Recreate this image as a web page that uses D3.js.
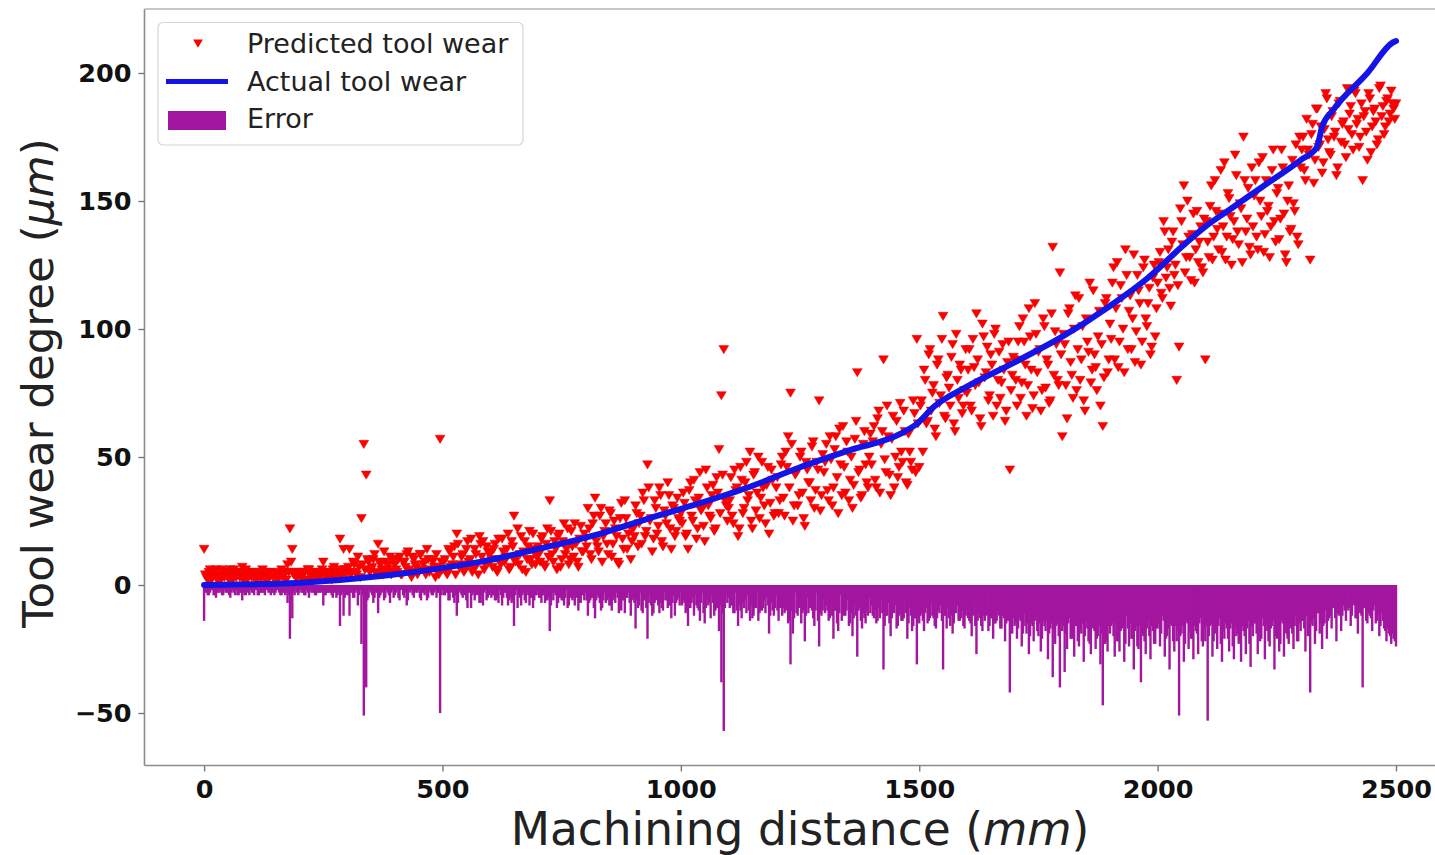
<!DOCTYPE html>
<html>
<head>
<meta charset="utf-8">
<script src="https://cdn.jsdelivr.net/npm/d3@7"></script>
<style>
  html, body { margin: 0; padding: 0; background: #ffffff; overflow: hidden; }
  svg { display: block; font-family: "DejaVu Sans", sans-serif; }
</style>
</head>
<body>
<script>
// ---------------- data ----------------
const STEP = 5;      // sample spacing (mm); second set is offset by half a step

// Predicted tool wear (µm) at 0, 5, 10 ... 2500 mm
const predY = [
  14,3,5,2,4,6,3,2,5,4,3,6,2,4,5,3,7,4,2,5,
  3,4,2,5,3,4,2,3,5,4,3,2,4,3,5,8,22,14,5,3,
  4,3,5,2,6,3,4,5,3,4,9,5,3,4,6,3,5,18,4,6,
  6,14,5,8,4,7,26,55,43,9,6,10,5,16,8,4,9,6,11,5,
  8,5,11,4,9,12,6,3,10,7,5,12,8,4,10,6,9,3,7,57,
  6,10,4,13,8,15,20,7,11,5,14,9,18,6,12,4,16,17,8,13,
  12,7,16,5,10,18,9,14,6,17,27,11,8,19,13,5,15,10,20,8,
  15,9,19,7,22,33,12,17,6,20,10,24,14,8,21,11,16,7,23,13,
  18,30,12,24,34,15,27,9,21,16,29,11,25,19,8,32,14,26,20,10,
  22,31,15,27,36,19,47,25,13,33,20,38,17,29,24,35,14,30,21,26,
  28,36,19,14,40,25,33,22,44,30,17,38,27,35,21,42,53,74,92,31,
  30,42,24,37,19,46,28,40,33,52,22,44,36,26,48,31,39,20,45,27,
  38,28,47,34,52,58,75,25,43,31,50,36,23,45,40,54,30,48,72,35,
  44,55,33,49,38,58,28,47,62,36,52,41,30,57,83,45,35,60,40,50,
  47,62,38,68,55,88,44,58,35,66,50,42,71,48,60,39,52,45,67,96,
  46,72,84,63,90,68,78,58,88,74,105,65,82,70,94,60,80,86,67,76,
  75,92,68,85,106,79,62,97,83,72,90,66,100,80,73,94,64,87,45,82,
  88,70,101,79,95,66,108,84,74,98,91,68,104,77,86,72,132,99,80,122,
  58,94,65,108,82,100,76,112,88,72,104,91,79,115,85,97,70,62,110,83,
  102,118,88,126,95,112,83,121,107,92,129,99,115,86,124,104,110,90,120,97,
  118,130,112,138,124,116,134,121,80,93,142,156,128,136,119,145,131,126,140,122,
  88,134,148,127,158,139,145,130,165,136,151,125,142,160,133,147,175,138,155,129,
  140,158,131,150,167,137,146,128,162,142,153,135,170,145,126,156,139,149,172,133,
  163,175,158,170,127,180,166,186,172,161,178,190,169,183,175,160,188,173,181,167,
  178,187,170,192,182,175,158,185,166,190,179,186,172,194,183,176,189,181,193,186,
  188
];

// Predicted tool wear (µm) at 2.5, 7.5 ... 2497.5 mm
const predY2 = [
  4,2,6,3,5,2,4,6,3,5,2,4,6,3,4,5,2,6,3,4,
  5,2,4,3,6,2,5,3,4,2,5,3,6,4,2,5,9,4,3,5,
  3,5,2,6,4,3,5,2,4,6,3,5,4,2,7,5,3,6,14,4,
  7,4,9,5,11,3,8,6,10,5,7,12,4,9,6,13,5,8,4,10,
  6,10,4,9,7,13,5,11,8,4,12,6,9,14,5,10,7,12,4,9,
  9,5,14,7,11,4,16,8,12,6,17,10,5,14,8,19,11,6,15,9,
  10,14,6,18,8,13,11,20,7,15,9,22,12,6,17,10,21,8,14,11,
  12,18,8,16,11,21,9,14,19,7,17,12,22,10,15,24,9,18,13,20,
  15,22,10,27,17,13,30,19,24,12,28,16,22,9,26,18,33,14,23,17,
  19,28,24,16,33,21,38,26,18,30,23,35,15,27,40,22,31,19,34,25,
  24,32,20,37,27,41,18,34,29,23,45,31,26,39,22,36,28,43,33,25,
  33,27,45,38,22,41,30,48,35,25,43,29,50,34,38,24,46,32,41,28,
  42,33,50,27,46,38,55,31,44,35,52,26,48,40,33,56,37,45,29,51,
  48,37,58,31,53,42,61,35,46,56,33,50,39,64,44,34,55,47,38,59,
  56,41,65,36,60,49,70,43,57,38,64,46,52,68,40,59,48,72,44,63,
  70,52,80,64,92,75,61,86,71,96,66,81,77,89,63,98,73,84,70,92,
  84,70,96,78,88,65,102,81,93,74,86,98,70,91,79,84,68,95,76,89,
  80,95,73,104,86,78,97,69,110,83,92,76,101,88,71,106,82,94,78,90,
  98,78,106,87,73,113,92,80,101,68,95,118,84,90,76,107,94,81,112,88,
  96,124,108,85,117,100,131,92,113,104,87,121,110,95,127,101,116,93,125,108,
  126,114,142,120,131,109,138,125,117,147,133,122,150,128,137,118,146,134,124,143,
  142,128,156,136,146,131,162,140,127,153,144,135,168,138,149,126,158,143,132,163,
  152,136,165,144,130,158,148,140,170,134,155,143,163,129,150,138,166,146,136,175,
  170,162,182,168,176,157,186,171,179,165,192,174,168,185,177,163,189,180,172,194,
  184,176,193,180,171,188,183,177,192,169,185,181,174,195,187,179,190,184,188,182
];

// Error (negative) at 0, 5, 10 ... 2500 mm
const errY = [
  -14,-3,-4,-2,-4,-5,-3,-2,-4,-3,-3,-5,-2,-4,-4,-3,-6,-4,-2,-4,
  -3,-4,-2,-4,-3,-3,-2,-3,-4,-3,-3,-2,-4,-3,-4,-7,-21,-13,-4,-3,
  -3,-3,-4,-2,-5,-3,-3,-4,-3,-3,-8,-4,-3,-3,-5,-3,-4,-16,-3,-5,
  -4,-12,-3,-5,-2,-4,-23,-51,-40,-5,-3,-7,-3,-11,-4,-2,-5,-3,-7,-2,
  -4,-2,-6,-1,-5,-8,-2,-2,-5,-3,-2,-6,-3,-2,-5,-3,-4,-2,-3,-50,
  -2,-4,-3,-6,-2,-7,-12,-2,-4,-3,-6,-3,-9,-3,-4,-4,-7,-8,-2,-5,
  -3,-4,-6,-5,-2,-8,-3,-5,-6,-7,-16,-2,-4,-8,-3,-7,-4,-5,-9,-4,
  -2,-5,-4,-7,-6,-18,-3,-3,-9,-5,-6,-8,-2,-8,-5,-5,-2,-10,-7,-4,
  -3,-12,-6,-5,-13,-4,-7,-9,-3,-6,-8,-10,-5,-3,-11,-10,-6,-5,-3,-12,
  -5,-17,-9,-3,-11,-6,-21,-4,-12,-7,-5,-11,-9,-3,-6,-8,-13,-4,-7,-5,
  -3,-6,-11,-16,-9,-5,-4,-9,-14,-3,-15,-6,-7,-4,-12,-9,-18,-38,-57,-4,
  -5,-8,-11,-3,-16,-10,-7,-6,-4,-14,-13,-9,-3,-11,-10,-6,-5,-19,-7,-12,
  -4,-14,-6,-9,-10,-15,-31,-19,-3,-12,-8,-11,-22,-5,-9,-10,-16,-3,-24,-12,
  -6,-8,-14,-7,-21,-10,-18,-4,-11,-12,-6,-15,-20,-8,-28,-9,-17,-13,-10,-5,
  -8,-13,-15,-9,-6,-33,-12,-7,-20,-10,-8,-16,-11,-14,-6,-21,-9,-18,-13,-31,
  -15,-11,-18,-9,-14,-7,-13,-17,-10,-8,-33,-12,-9,-16,-19,-11,-8,-14,-10,-17,
  -10,-14,-20,-8,-27,-11,-16,-12,-9,-18,-13,-21,-15,-10,-17,-12,-22,-14,-42,-19,
  -16,-21,-13,-24,-11,-19,-27,-15,-22,-12,-20,-26,-14,-18,-29,-17,-36,-23,-15,-40,
  -18,-34,-25,-13,-21,-28,-16,-24,-19,-30,-14,-22,-27,-17,-25,-20,-31,-47,-23,-26,
  -19,-15,-28,-22,-26,-17,-30,-12,-24,-21,-33,-16,-25,-38,-20,-27,-14,-29,-18,-23,
  -17,-24,-12,-28,-20,-33,-16,-26,-22,-51,-19,-30,-14,-25,-21,-29,-18,-27,-13,-24,
  -22,-53,-16,-28,-19,-25,-13,-30,-21,-17,-26,-15,-29,-20,-23,-30,-18,-27,-14,-32,
  -20,-15,-27,-22,-13,-29,-18,-24,-16,-33,-21,-26,-14,-28,-19,-23,-17,-25,-12,-22,
  -18,-14,-26,-20,-42,-16,-23,-11,-19,-25,-15,-21,-13,-17,-9,-22,-12,-18,-8,-14,
  -10,-16,-7,-13,-19,-11,-40,-9,-15,-12,-18,-8,-14,-20,-11,-17,-22,-19,-23,-21,
  -24
];

// Error (negative) at 2.5, 7.5 ... 2497.5 mm
const errY2 = [
  -3,-4,-3,-2,-4,-3,-3,-4,-2,-3,-4,-3,-3,-2,-4,-3,-3,-4,-3,-2,
  -3,-2,-4,-3,-3,-4,-2,-3,-3,-4,-2,-3,-4,-3,-3,-4,-6,-3,-2,-4,
  -2,-3,-4,-3,-2,-3,-4,-3,-3,-2,-4,-3,-3,-4,-3,-5,-3,-4,-12,-3,
  -4,-3,-5,-3,-8,-2,-4,-3,-6,-2,-4,-5,-3,-5,-3,-6,-2,-4,-3,-5,
  -3,-5,-2,-4,-3,-6,-3,-4,-2,-3,-5,-3,-4,-6,-2,-4,-3,-5,-3,-4,
  -4,-3,-6,-3,-5,-4,-7,-3,-5,-4,-9,-3,-4,-6,-3,-7,-4,-3,-6,-4,
  -5,-4,-6,-7,-4,-5,-3,-8,-5,-6,-4,-9,-5,-4,-6,-3,-8,-5,-6,-4,
  -5,-7,-4,-6,-5,-8,-6,-4,-7,-5,-6,-5,-9,-4,-6,-8,-5,-7,-4,-6,
  -6,-7,-5,-9,-6,-5,-10,-6,-7,-5,-8,-6,-7,-5,-9,-6,-11,-5,-7,-6,
  -7,-6,-8,-10,-6,-9,-7,-8,-11,-6,-8,-7,-10,-6,-9,-8,-7,-12,-6,-8,
  -8,-7,-10,-9,-7,-12,-8,-10,-7,-11,-9,-8,-13,-7,-10,-9,-8,-11,-9,-7,
  -9,-8,-11,-10,-8,-13,-9,-11,-10,-8,-12,-9,-14,-10,-9,-11,-8,-12,-10,-9,
  -10,-9,-12,-11,-9,-14,-10,-13,-11,-9,-15,-10,-12,-11,-9,-13,-10,-14,-11,-10,
  -11,-10,-13,-12,-10,-15,-11,-14,-12,-10,-16,-11,-13,-12,-10,-14,-11,-15,-12,-11,
  -12,-10,-14,-13,-11,-16,-12,-15,-13,-11,-17,-12,-14,-13,-11,-15,-12,-16,-13,-12,
  -12,-14,-11,-15,-13,-12,-16,-13,-11,-14,-12,-17,-13,-12,-15,-11,-14,-13,-16,-12,
  -13,-15,-12,-16,-14,-13,-18,-14,-12,-16,-13,-15,-14,-12,-17,-13,-15,-14,-16,-13,
  -15,-17,-14,-19,-16,-15,-20,-16,-14,-18,-15,-21,-16,-14,-19,-15,-17,-16,-20,-15,
  -16,-19,-15,-21,-17,-16,-22,-18,-15,-20,-17,-23,-16,-18,-21,-16,-19,-17,-22,-16,
  -16,-20,-15,-22,-18,-16,-23,-17,-15,-21,-18,-24,-16,-19,-22,-17,-20,-16,-23,-17,
  -15,-19,-14,-21,-17,-15,-22,-16,-18,-20,-16,-23,-15,-18,-21,-16,-19,-15,-22,-17,
  -16,-20,-15,-22,-17,-16,-23,-18,-15,-21,-17,-24,-16,-19,-22,-16,-20,-17,-23,-16,
  -15,-19,-14,-21,-16,-15,-22,-17,-14,-20,-16,-23,-15,-18,-21,-15,-19,-16,-22,-15,
  -14,-17,-12,-19,-15,-13,-18,-11,-15,-16,-10,-14,-12,-9,-13,-11,-8,-12,-10,-9,
  -9,-12,-8,-13,-10,-12,-9,-14,-11,-13,-10,-15,-12,-16,-14,-18,-17,-20,-19,-22
];

// Actual tool wear curve (knots)
const actualX = [0,100,180,285,390,495,600,705,830,950,1040,1145,1250,1355,1460,1495,1530,1600,1700,1800,1900,1980,2050,2100,2150,2220,2300,2334,2345,2368,2440,2494,2500];
const actualY = [0,0.3,0.7,2,3.9,6.5,9.8,14.3,20,27,32,38.4,46,52.7,59,63,69.5,77.5,87,97,109,120,132,140,146.5,155.6,166,171,179,185.5,200,212,212.5];

const xTicks = [0, 500, 1000, 1500, 2000, 2500];
const yTicks = [-50, 0, 50, 100, 150, 200];
const legendLabels = ["Predicted tool wear", "Actual tool wear", "Error"];

// ---------------- drawing ----------------
const W = 1435, H = 855;
const x = d3.scaleLinear().domain([-125, 2625]).range([144.5, 1455.6]);
const y = d3.scaleLinear().domain([-70.5, 225]).range([765.5, 9]);

const svg = d3.select("body").append("svg").attr("width", W).attr("height", H);

const pts1 = predY.map((v, i) => ({ x: i * STEP, v }));
const pts2 = predY2.map((v, i) => ({ x: i * STEP + STEP / 2, v }));
const err1 = errY.map((v, i) => ({ x: i * STEP, v }));
const err2 = errY2.map((v, i) => ({ x: i * STEP + STEP / 2, v }));
const errAll = err2.concat(err1);
const predAll = pts1.concat(pts2);

const PURPLE = "#a3169f";

// error bars
const bw = 2.4;
svg.append("g").selectAll("rect").data(errAll).join("rect")
  .attr("x", d => x(d.x) - bw / 2)
  .attr("width", bw)
  .attr("y", y(0))
  .attr("height", d => y(d.v) - y(0))
  .attr("fill", PURPLE);

// predicted markers (triangle down)
const tri = "M-4.9,-3.9L4.9,-3.9L0,4.3Z";
svg.append("g").selectAll("path").data(predAll).join("path")
  .attr("d", tri)
  .attr("transform", d => `translate(${x(d.x)},${y(d.v)})`)
  .attr("fill", "#ff0000")
  .attr("stroke", "#e80000")
  .attr("stroke-width", 0.5);

// actual line
const line = d3.line().x(d => x(d[0])).y(d => y(d[1])).curve(d3.curveMonotoneX);
svg.append("path")
  .datum(actualX.map((v, i) => [v, actualY[i]]))
  .attr("d", line)
  .attr("fill", "none")
  .attr("stroke", "#1414e6")
  .attr("stroke-width", 6)
  .attr("stroke-linecap", "round")
  .attr("stroke-linejoin", "round");

// spines
const spine = "#8c8c8c";
svg.append("line").attr("x1", 144.5).attr("x2", 144.5).attr("y1", 9).attr("y2", 765.5).attr("stroke", spine).attr("stroke-width", 1.6);
svg.append("line").attr("x1", 144.5).attr("x2", 1456).attr("y1", 765.5).attr("y2", 765.5).attr("stroke", spine).attr("stroke-width", 1.6);
svg.append("line").attr("x1", 144.5).attr("x2", 1456).attr("y1", 9).attr("y2", 9).attr("stroke", "#b5b5b5").attr("stroke-width", 1.6);

// axes
const yAxis = d3.axisLeft(y).tickValues(yTicks).tickSize(6).tickPadding(7).tickFormat(d3.format("d"));
const gy = svg.append("g").attr("transform", "translate(144.5,0)").call(yAxis);
const xAxis = d3.axisBottom(x).tickValues(xTicks).tickSize(6).tickPadding(8).tickFormat(d3.format("d"));
const gx = svg.append("g").attr("transform", "translate(0,765.5)").call(xAxis);
[gx, gy].forEach(g => {
  g.select(".domain").remove();
  g.selectAll(".tick line").attr("stroke", "#777").attr("stroke-width", 1.4);
  g.selectAll(".tick text")
    .attr("fill", "#111")
    .style("font-family", "'DejaVu Sans', sans-serif")
    .style("font-size", "25.5px")
    .style("font-weight", "bold");
});

// axis labels
const xl = svg.append("text")
  .attr("x", 800).attr("y", 845)
  .attr("text-anchor", "middle")
  .style("font-size", "45.5px").attr("fill", "#222");
xl.append("tspan").text("Machining distance (");
xl.append("tspan").style("font-style", "italic").text("mm");
xl.append("tspan").text(")");

const yl = svg.append("text")
  .attr("transform", "translate(53,383) rotate(-90)")
  .attr("text-anchor", "middle")
  .style("font-size", "43.5px").attr("fill", "#222");
yl.append("tspan").text("Tool wear degree (");
yl.append("tspan").style("font-style", "italic").text("\u03bcm");
yl.append("tspan").text(")");

// legend
const lg = svg.append("g");
lg.append("rect").attr("x", 158).attr("y", 22.5).attr("width", 365).attr("height", 122.5)
  .attr("rx", 5).attr("fill", "#ffffff").attr("fill-opacity", 0.85)
  .attr("stroke", "#d6d6d6").attr("stroke-width", 1.2);
lg.append("path").attr("d", tri).attr("transform", "translate(198,43.5)").attr("fill", "#ff0000");
lg.append("line").attr("x1", 166).attr("x2", 228).attr("y1", 81.5).attr("y2", 81.5)
  .attr("stroke", "#1414e6").attr("stroke-width", 5);
lg.append("rect").attr("x", 168).attr("y", 111).attr("width", 58).attr("height", 19)
  .attr("fill", PURPLE);
legendLabels.forEach((t, i) => {
  lg.append("text").attr("x", 247).attr("y", 53 + i * 37.7)
    .style("font-size", "27px").attr("fill", "#222").text(t);
});
</script>
</body>
</html>
